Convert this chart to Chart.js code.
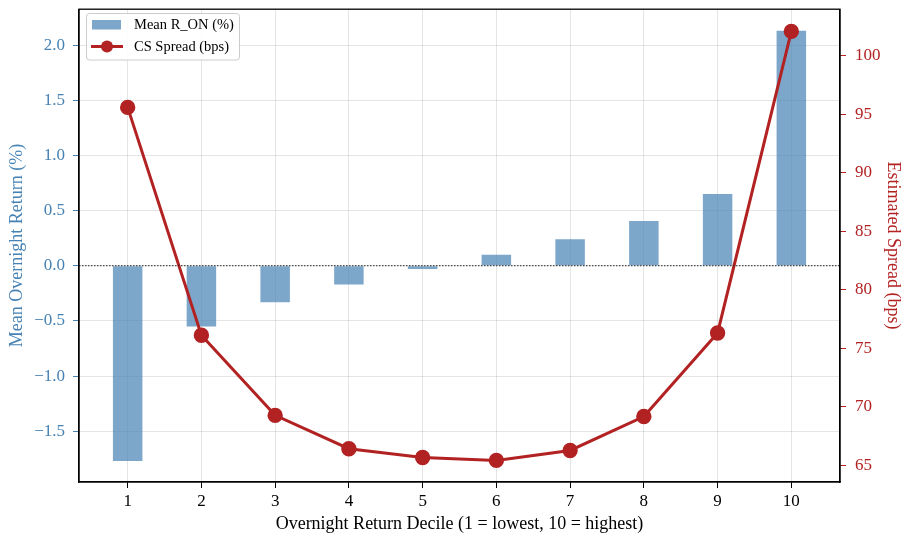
<!DOCTYPE html>
<html>
<head>
<meta charset="utf-8">
<script src="https://cdn.jsdelivr.net/npm/chart.js@4"></script>
<style>
  html, body { margin: 0; padding: 0; background: #fff; }
  #wrap { width: 902px; height: 536px; }
</style>
</head>
<body>
<div id="wrap"><canvas id="decileChart" width="902" height="536"></canvas></div>
<script>
const deciles = [1, 2, 3, 4, 5, 6, 7, 8, 9, 10];
const meanReturn = [-1.77, -0.55, -0.33, -0.17, -0.03, 0.10, 0.24, 0.405, 0.65, 2.13]; // %
const csSpread = [95.6, 76.1, 69.25, 66.4, 65.65, 65.4, 66.25, 69.15, 76.3, 102.1]; // bps
const leftTicks = [-1.5, -1.0, -0.5, 0.0, 0.5, 1.0, 1.5, 2.0];
const rightTicks = [65, 70, 75, 80, 85, 90, 95, 100];

const BLUE = "#4682B4";
const BAR = "rgba(70, 130, 180, 0.7)";
const RED = "#B22222";
const FONT = "'Liberation Serif', 'DejaVu Serif', serif";

// 凡例と枠と0の点線はプラグインで描く
const extras = {
  id: "extras",
  afterDatasetsDraw(chart) {
    const { ctx, chartArea: a, scales } = chart;
    const y0 = scales.y.getPixelForValue(0);
    ctx.save();
    ctx.strokeStyle = "#222";
    ctx.lineWidth = 1;
    ctx.setLineDash([1.5, 1.5]);
    ctx.beginPath();
    ctx.moveTo(a.left, y0);
    ctx.lineTo(a.right, y0);
    ctx.stroke();
    ctx.restore();
  },
  afterDraw(chart) {
    const { ctx, chartArea: a } = chart;
    const ds = chart.data.datasets;
    ctx.save();
    // legend box
    ctx.fillStyle = "rgba(255,255,255,0.85)";
    ctx.strokeStyle = "#cccccc";
    ctx.lineWidth = 1;
    ctx.beginPath();
    ctx.roundRect(86.5, 13.5, 153, 46.5, 3);
    ctx.fill();
    ctx.stroke();
    ctx.fillStyle = ds[0].backgroundColor;
    ctx.fillRect(92, 20, 29, 9.5);
    ctx.strokeStyle = ds[1].borderColor;
    ctx.lineWidth = 3;
    ctx.beginPath();
    ctx.moveTo(91, 46.5);
    ctx.lineTo(123, 46.5);
    ctx.stroke();
    ctx.fillStyle = ds[1].borderColor;
    ctx.beginPath();
    ctx.arc(107, 46.5, 6, 0, Math.PI * 2);
    ctx.fill();
    ctx.fillStyle = "#000";
    ctx.font = "14.5px " + FONT;
    ctx.textBaseline = "middle";
    ctx.fillText(ds[0].label, 134, 25);
    ctx.fillText(ds[1].label, 134, 47);
    // frame
    ctx.strokeStyle = "#000";
    ctx.lineWidth = 1.3;
    ctx.strokeRect(a.left, a.top, a.right - a.left, a.bottom - a.top);
    ctx.restore();
  }
};

const fmt = v => (v < 0 ? "\u2212" : "") + Math.abs(v).toFixed(1);

new Chart(document.getElementById("decileChart"), {
  type: "bar",
  data: {
    datasets: [
      {
        label: "Mean R_ON (%)",
        data: deciles.map((d, i) => ({ x: d, y: meanReturn[i] })),
        backgroundColor: BAR,
        borderWidth: 0,
        barPercentage: 0.4,
        categoryPercentage: 1,
        yAxisID: "y",
        order: 1
      },
      {
        label: "CS Spread (bps)",
        type: "line",
        data: deciles.map((d, i) => ({ x: d, y: csSpread[i] })),
        borderColor: RED,
        backgroundColor: RED,
        borderWidth: 3,
        pointRadius: 6.2,
        pointBackgroundColor: RED,
        pointBorderColor: RED,
        tension: 0,
        yAxisID: "y2",
        order: 0
      }
    ]
  },
  options: {
    responsive: false,
    animation: false,
    devicePixelRatio: 1,
    layout: { padding: { top: 6, left: 0, right: 0, bottom: 0 } },
    plugins: { legend: { display: false }, tooltip: { enabled: false } },
    scales: {
      x: {
        type: "linear",
        offset: false,
        min: 0.34,
        max: 10.66,
        afterFit: s => { s.height = 54; s.paddingLeft = 0; s.paddingRight = 0; },
        afterBuildTicks: s => { s.ticks = deciles.map(v => ({ value: v })); },
        grid: { offset: false, color: "rgba(0,0,0,0.1)", tickColor: "#000", tickLength: 6 },
        border: { color: "#000", width: 1.3 },
        ticks: { color: "#000", padding: 3, font: { family: FONT, size: 17 }, callback: v => String(v) },
        title: {
          display: true,
          text: "Overnight Return Decile (1 = lowest, 10 = highest)",
          color: "#000",
          font: { family: FONT, size: 18, lineHeight: 1 },
          padding: { top: 0, bottom: 3 }
        }
      },
      y: {
        position: "left",
        min: -1.96,
        max: 2.325,
        afterFit: s => { s.width = 79; s.paddingTop = 0; s.paddingBottom = 0; },
        afterBuildTicks: s => { s.ticks = leftTicks.map(v => ({ value: v })); },
        grid: { color: "rgba(0,0,0,0.1)", tickColor: BLUE, tickLength: 6 },
        border: { color: "#000", width: 1.3 },
        ticks: { color: BLUE, padding: 8, font: { family: FONT, size: 17 }, callback: fmt },
        title: {
          display: true,
          text: "Mean Overnight Return (%)",
          color: BLUE,
          font: { family: FONT, size: 18, lineHeight: 1 },
          padding: { top: 8, bottom: 0 }
        }
      },
      y2: {
        position: "right",
        min: 63.55,
        max: 104.0,
        afterFit: s => { s.width = 62; s.paddingTop = 0; s.paddingBottom = 0; },
        afterBuildTicks: s => { s.ticks = rightTicks.map(v => ({ value: v })); },
        grid: { drawOnChartArea: false, tickColor: RED, tickLength: 6 },
        border: { color: "#000", width: 1.3 },
        ticks: { color: RED, padding: 9, font: { family: FONT, size: 17 } },
        title: {
          display: true,
          text: "Estimated Spread (bps)",
          color: RED,
          font: { family: FONT, size: 18, lineHeight: 1 },
          padding: { top: 0, bottom: 0 }
        }
      }
    }
  },
  plugins: [extras]
});
</script>
</body>
</html>
